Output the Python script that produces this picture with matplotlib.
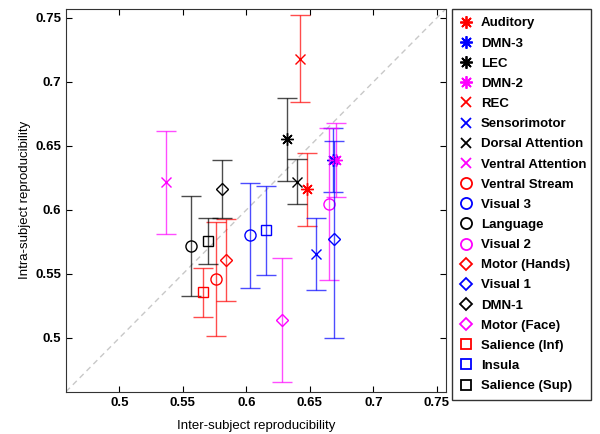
import matplotlib
matplotlib.use('Agg')
import matplotlib.pyplot as plt
from matplotlib.lines import Line2D

plt.rcParams['font.family'] = ['Liberation Sans', 'DejaVu Sans']
plt.rcParams['font.weight'] = 'bold'

# network names (legend order)
names = ['Auditory', 'DMN-3', 'LEC', 'DMN-2', 'REC', 'Sensorimotor',
         'Dorsal Attention', 'Ventral Attention', 'Ventral Stream', 'Visual 3',
         'Language', 'Visual 2', 'Motor (Hands)', 'Visual 1', 'DMN-1',
         'Motor (Face)', 'Salience (Inf)', 'Insula', 'Salience (Sup)']

# inter-subject reproducibility (x)
inter = [0.648, 0.668, 0.632, 0.6705, 0.6426, 0.655, 0.640, 0.5365, 0.5762,
         0.6027, 0.5566, 0.6653, 0.584, 0.6692, 0.5805, 0.6278, 0.5657,
         0.6153, 0.5694]

# intra-subject reproducibility (y) and its error
intra = [0.616, 0.639, 0.655, 0.639, 0.718, 0.5655, 0.622, 0.6217, 0.546,
         0.580, 0.5718, 0.6045, 0.5607, 0.577, 0.6165, 0.514, 0.5355,
         0.584, 0.5758]
intra_err = [0.0285, 0.025, 0.0323, 0.029, 0.0339, 0.0279, 0.0176, 0.0402,
             0.0447, 0.0409, 0.0392, 0.0595, 0.032, 0.0772, 0.0225, 0.0486,
             0.0193, 0.0347, 0.0179]

colors = ['red', 'blue', 'black', 'magenta']
markers = [(8, 2, 0), 'x', 'o', 'D', 's']
sizes = {'x': 7, 'o': 8, 'D': 6.5, 's': 7.5}

fig = plt.figure(figsize=(6, 4.34), dpi=100)
ax = fig.add_axes([0.11, 0.0975, 0.633, 0.882])

lims = [0.458, 0.757]
ax.plot(lims, lims, '--', color='#c8c8c8', lw=1, dashes=(4, 3))

handles = []
for i, name in enumerate(names):
    c = colors[i % 4]
    m = markers[i // 4]
    ms = sizes.get(m, 9) if isinstance(m, str) else 9
    ax.errorbar(inter[i], intra[i], yerr=intra_err[i], fmt='none',
                ecolor=c, elinewidth=1, capsize=7.5, capthick=1, alpha=0.7)
    ax.plot(inter[i], intra[i], linestyle='none', marker=m, ms=ms,
            mfc='none', mec=c, mew=1)
    handles.append(Line2D([], [], linestyle='none', marker=m, ms=ms,
                          mfc='none', mec=c, mew=1.3, label=name))

ax.set_xlim(lims)
ax.set_ylim(lims)
ticks = [0.5, 0.55, 0.6, 0.65, 0.7, 0.75]
ax.set_xticks(ticks)
ax.set_yticks(ticks)
ax.set_xticklabels(['0.5', '0.55', '0.6', '0.65', '0.7', '0.75'])
ax.set_yticklabels(['0.5', '0.55', '0.6', '0.65', '0.7', '0.75'])
ax.tick_params(direction='in', top=True, right=True, length=4, labelsize=9.5)
for s in ax.spines.values():
    s.set_color('#333333')
ax.set_xlabel('Inter-subject reproducibility', fontsize=9.5, labelpad=8)
ax.set_ylabel('Intra-subject reproducibility', fontsize=9.5, labelpad=3)

leg = fig.legend(handles=handles, loc='upper left',
                 bbox_to_anchor=(451.7 / 600, (434 - 391.7) / 434,
                                 (590.7 - 451.7) / 600, (391.7 - 9.3) / 434),
                 mode='expand', fontsize=9.5, labelspacing=0.6,
                 handlelength=1.0, handletextpad=0.6, borderaxespad=0,
                 fancybox=False, framealpha=1, borderpad=0.6)
leg.get_frame().set_edgecolor('#333333')
leg.get_frame().set_linewidth(1)

fig.savefig('out.png', dpi=100)
